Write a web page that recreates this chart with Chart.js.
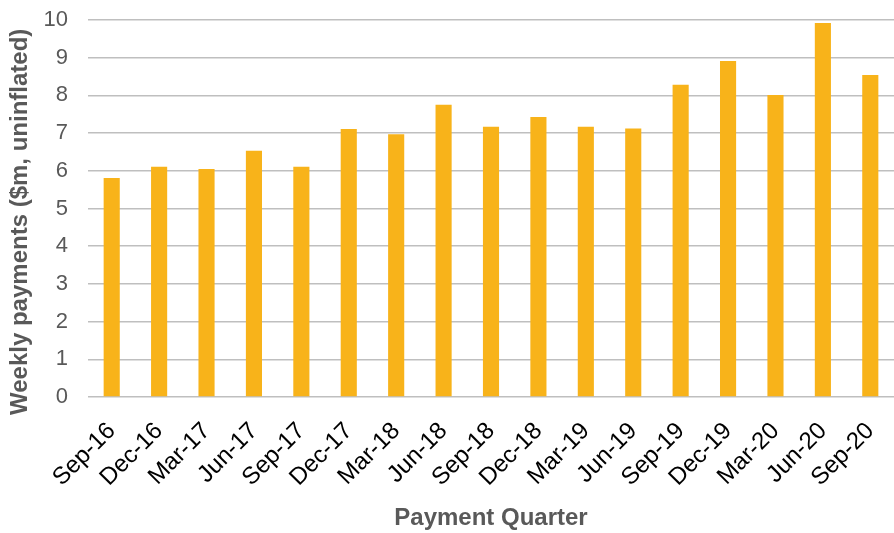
<!DOCTYPE html>
<html>
<head>
<meta charset="utf-8">
<script src="https://cdn.jsdelivr.net/npm/chart.js@4/dist/chart.umd.min.js"></script>
<style>
html,body{margin:0;padding:0;background:#fff;}
#wrap{width:894px;height:533px;position:relative;}
</style>
</head>
<body>
<div id="wrap"><canvas id="c" width="894" height="533"></canvas></div>
<script>
const categories = ["Sep-16","Dec-16","Mar-17","Jun-17","Sep-17","Dec-17","Mar-18","Jun-18","Sep-18","Dec-18","Mar-19","Jun-19","Sep-19","Dec-19","Mar-20","Jun-20","Sep-20"];
const weeklyPayments = [5.81,6.11,6.05,6.53,6.11,7.11,6.97,7.75,7.17,7.43,7.17,7.12,8.28,8.91,8.01,9.92,8.54];
const yTicks = [0,1,2,3,4,5,6,7,8,9,10];

const gray = "#595959";
const fam = "Liberation Sans, Arial";
new Chart(document.getElementById("c"), {
  type: "bar",
  data: {
    labels: categories,
    datasets: [{
      data: weeklyPayments,
      backgroundColor: "#F8B31A",
      borderWidth: 0,
      barPercentage: 0.68,
      categoryPercentage: 0.5
    }]
  },
  options: {
    responsive: false,
    animation: false,
    layout: { padding: { top: 20, right: 0, left: 0, bottom: 0 } },
    plugins: { legend: { display: false }, tooltip: { enabled: false } },
    scales: {
      x: {
        grid: { display: false, drawTicks: false },
        border: { display: false },
        ticks: {
          color: "#000",
          font: { family: fam, size: 24 },
          minRotation: 45, maxRotation: 45,
          padding: 20,
          autoSkip: false
        },
        title: {
          display: true,
          text: "Payment Quarter",
          color: gray,
          font: { family: fam, size: 24, weight: "bold" },
          padding: { top: 0, bottom: 0 }
        },
        afterFit: s => { s.height = 136; s.paddingRight = 0; s.paddingLeft = 0; }
      },
      y: {
        min: 0, max: 10,
        afterBuildTicks: s => { s.ticks = yTicks.map(v => ({ value: v })); },
        grid: { color: "#BFBFBF", lineWidth: 1.5, drawTicks: false },
        border: { display: false },
        ticks: {
          color: gray,
          font: { family: fam, size: 22 },
          padding: 20
        },
        title: {
          display: true,
          text: "Weekly payments ($m, uninflated)    ",
          color: gray,
          font: { family: fam, size: 24, weight: "bold" },
          padding: { top: 6, bottom: 0 }
        },
        afterFit: s => { s.width = 88; s.paddingTop = 0; s.paddingBottom = 0; }
      }
    }
  }
});
</script>
</body>
</html>
